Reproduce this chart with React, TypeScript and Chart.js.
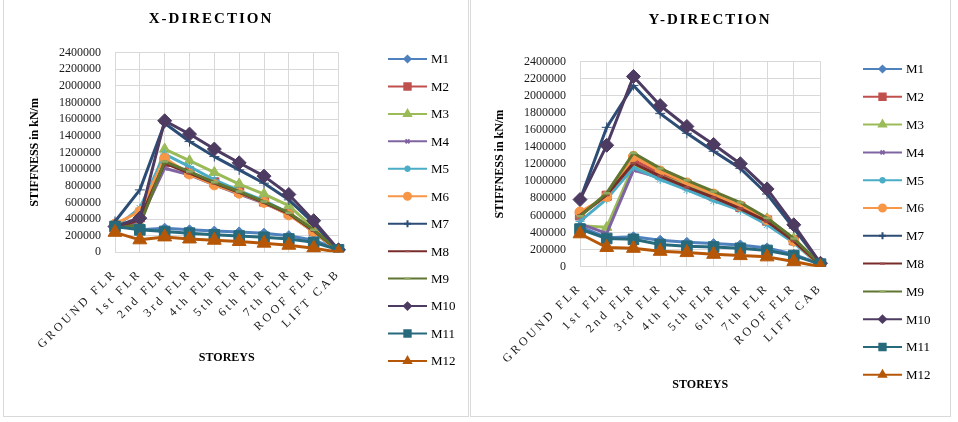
import React, { useEffect, useRef } from 'react';
import { Chart, registerables } from 'chart.js';
import { drawPoint } from 'chart.js/helpers';

Chart.register(...registerables);

// Storey labels along the x axis
const storeys = ['GROUND FLR', '1st FLR', '2nd FLR', '3rd FLR', '4th FLR', '5th FLR', '6th FLR', '7th FLR', 'ROOF FLR', 'LIFT CAB'];
const models = ['M1', 'M2', 'M3', 'M4', 'M5', 'M6', 'M7', 'M8', 'M9', 'M10', 'M11', 'M12'];

// Y axis range (kN/m)
const yMin = 0;
const yMax = 2400000;
const yStep = 200000;

// Stiffness in X direction (kN/m)
const xM1 = [330000, 270000, 290000, 270000, 255000, 245000, 230000, 200000, 145000, 35000];
const xM2 = [300000, 420000, 1080000, 960000, 840000, 730000, 610000, 470000, 260000, 20000];
const xM3 = [300000, 340000, 1240000, 1100000, 960000, 820000, 700000, 560000, 290000, 20000];
const xM4 = [280000, 380000, 1010000, 930000, 810000, 700000, 590000, 455000, 250000, 10000];
const xM5 = [300000, 530000, 1180000, 1030000, 870000, 740000, 620000, 470000, 240000, 10000];
const xM6 = [340000, 490000, 1130000, 940000, 810000, 710000, 600000, 450000, 250000, 10000];
const xM7 = [370000, 750000, 1550000, 1330000, 1150000, 990000, 830000, 630000, 350000, 20000];
const xM8 = [280000, 400000, 1070000, 950000, 830000, 720000, 600000, 465000, 260000, 20000];
const xM9 = [290000, 330000, 1090000, 970000, 840000, 730000, 610000, 475000, 270000, 20000];
const xM10 = [310000, 410000, 1580000, 1420000, 1240000, 1075000, 915000, 695000, 380000, 30000];
const xM11 = [310000, 270000, 250000, 230000, 210000, 195000, 180000, 160000, 120000, 30000];
const xM12 = [240000, 150000, 185000, 160000, 145000, 130000, 110000, 85000, 50000, 0];

// Stiffness in Y direction (kN/m)
const yM1 = [470000, 340000, 350000, 310000, 285000, 270000, 255000, 220000, 145000, 30000];
const yM2 = [600000, 830000, 1250000, 1090000, 960000, 830000, 700000, 540000, 310000, 20000];
const yM3 = [480000, 460000, 1180000, 1060000, 950000, 830000, 710000, 560000, 330000, 20000];
const yM4 = [500000, 390000, 1130000, 1040000, 920000, 800000, 680000, 530000, 300000, 10000];
const yM5 = [530000, 790000, 1160000, 1020000, 900000, 770000, 660000, 490000, 280000, 10000];
const yM6 = [640000, 820000, 1290000, 1120000, 980000, 850000, 710000, 550000, 300000, 10000];
const yM7 = [780000, 1630000, 2120000, 1790000, 1560000, 1350000, 1150000, 850000, 450000, 40000];
const yM8 = [600000, 840000, 1210000, 1060000, 930000, 810000, 680000, 530000, 300000, 20000];
const yM9 = [590000, 860000, 1330000, 1150000, 1010000, 880000, 750000, 570000, 330000, 30000];
const yM10 = [785000, 1420000, 2225000, 1885000, 1640000, 1430000, 1205000, 910000, 490000, 40000];
const yM11 = [440000, 330000, 320000, 260000, 240000, 230000, 215000, 190000, 130000, 30000];
const yM12 = [385000, 225000, 215000, 180000, 165000, 145000, 130000, 115000, 60000, 0];

const xSeries = [xM1, xM2, xM3, xM4, xM5, xM6, xM7, xM8, xM9, xM10, xM11, xM12];
const ySeries = [yM1, yM2, yM3, yM4, yM5, yM6, yM7, yM8, yM9, yM10, yM11, yM12];

const lineColors = ['#4F81BD', '#C0504D', '#9BBB59', '#8064A2', '#4BACC6', '#F79646', '#2C4D75', '#772C2A', '#5F7530', '#4D3B62', '#276A7C', '#B65708'];
const markerFill = ['#4F81BD', '#C0504D', '#9BBB59', '#8064A2', '#4BACC6', '#F79646', '#2C4D75', '#9B4A48', '#8FA862', '#4D3B62', '#276A7C', '#B65708'];
const markerStyles = ['rectRot', 'rect', 'triangle', 'crossRot', 'star', 'circle', 'cross', 'line', 'line', 'rectRot', 'rect', 'triangle'];
const plotRadius = [5, 6.5, 6, 4, 4.5, 5, 5, 3, 3.5, 7, 7.5, 8];
const legendRadius = [3.2, 4.5, 4, 2.8, 3.2, 3.5, 3.5, 2.5, 3, 3.5, 4.5, 4];

const SERIF = '"Liberation Serif", "Times New Roman", serif';

type Layout = {
  title: string;
  titleX: number;
  titleY: number;
  yAxisWidth: number;
  yTitlePad: number;
  xAxisHeight: number;
  xTitlePad: number;
  padTop: number;
  padRight: number;
  padBottom: number;
  legendLineX: number;
  legendTop: number;
  legendGap: number;
};

// Heading drawn with spaced capitals
const headingPlugin = {
  id: 'heading',
  afterDraw(chart: any, _args: any, opts: any) {
    const ctx = chart.ctx;
    ctx.save();
    ctx.font = `bold 15px ${SERIF}`;
    (ctx as any).letterSpacing = '2px';
    ctx.fillStyle = '#000';
    ctx.textAlign = 'center';
    ctx.textBaseline = 'middle';
    ctx.fillText(opts.text, opts.x + 1, opts.y);
    ctx.restore();
  },
};

// Letter-spaced storey labels
const spacedTicksPlugin = {
  id: 'spacedTicks',
  beforeDraw(chart: any) {
    const xs = chart.scales.x;
    if (xs && !xs.__spaced) {
      const orig = xs.drawLabels;
      xs.drawLabels = function (area: any) {
        const ctx = this.ctx;
        ctx.save();
        ctx.letterSpacing = '3px';
        orig.call(this, area);
        ctx.restore();
      };
      xs.__spaced = true;
    }
  },
};

// Legend: short line with the series marker in the middle
const sideLegendPlugin = {
  id: 'sideLegend',
  afterDraw(chart: any, _args: any, opts: any) {
    const ctx = chart.ctx;
    ctx.save();
    models.forEach((name, i) => {
      const y = opts.top + i * opts.gap;
      const x0 = opts.lineX;
      const x1 = x0 + 39;
      ctx.strokeStyle = lineColors[i];
      ctx.lineWidth = 2;
      ctx.beginPath();
      ctx.moveTo(x0, y);
      ctx.lineTo(x1, y);
      ctx.stroke();
      ctx.fillStyle = markerFill[i];
      ctx.strokeStyle = markerStyles[i] === 'line' ? markerFill[i] : lineColors[i];
      drawPoint(ctx, {
        pointStyle: markerStyles[i],
        radius: legendRadius[i],
        rotation: 0,
        borderWidth: markerStyles[i] === 'line' ? 2 : 1,
      } as any, (x0 + x1) / 2, y);
      ctx.fillStyle = '#000';
      ctx.font = `13px ${SERIF}`;
      ctx.textAlign = 'left';
      ctx.textBaseline = 'middle';
      ctx.fillText(name, x1 + 4, y + 1);
    });
    ctx.restore();
  },
};

function makeChart(canvas: HTMLCanvasElement, series: number[][], L: Layout) {
  const datasets = series.map((values, i) => ({
    label: models[i],
    data: values,
    borderColor: lineColors[i],
    backgroundColor: markerFill[i],
    borderWidth: 3,
    borderJoinStyle: 'round' as const,
    borderCapStyle: 'round' as const,
    pointStyle: markerStyles[i] as any,
    pointRadius: plotRadius[i],
    pointBackgroundColor: markerFill[i],
    pointBorderColor: markerStyles[i] === 'line' ? markerFill[i] : lineColors[i],
    pointBorderWidth: markerStyles[i] === 'line' ? 2.5 : 1,
    tension: 0,
    order: series.length - 1 - i,
  }));

  return new Chart(canvas, {
    type: 'line',
    data: { labels: storeys, datasets },
    plugins: [headingPlugin, spacedTicksPlugin, sideLegendPlugin],
    options: {
      responsive: false,
      animation: false,
      events: [],
      layout: {
        padding: { left: 0, top: L.padTop, right: L.padRight, bottom: L.padBottom },
      },
      plugins: {
        legend: { display: false },
        tooltip: { enabled: false },
        title: { display: false },
        heading: { text: L.title, x: L.titleX, y: L.titleY },
        sideLegend: { lineX: L.legendLineX, top: L.legendTop, gap: L.legendGap },
      } as any,
      scales: {
        x: {
          type: 'category',
          offset: false,
          grid: { color: '#d9d9d9', lineWidth: 1, drawTicks: false, offset: false },
          border: { color: '#d9d9d9', width: 1 },
          ticks: {
            autoSkip: false,
            minRotation: 45,
            maxRotation: 45,
            padding: 14,
            color: '#1a1a1a',
            font: { family: SERIF, size: 12 },
          },
          title: {
            display: true,
            text: 'STOREYS',
            color: '#000',
            font: { family: SERIF, size: 12, weight: 'bold' },
            padding: { top: 0, bottom: L.xTitlePad },
          },
          afterFit(scale: any) {
            scale.height = L.xAxisHeight;
          },
        },
        y: {
          min: yMin,
          max: yMax,
          grid: { color: '#d9d9d9', lineWidth: 1, drawTicks: false },
          border: { color: '#d9d9d9', width: 1 },
          ticks: {
            stepSize: yStep,
            autoSkip: false,
            padding: 14,
            color: '#1a1a1a',
            font: { family: SERIF, size: 12 },
            callback: (v: any) => String(v),
          },
          title: {
            display: true,
            text: 'STIFFNESS in kN/m',
            color: '#000',
            font: { family: SERIF, size: 12, weight: 'bold' },
            padding: { top: L.yTitlePad, bottom: 0 },
          },
          afterFit(scale: any) {
            scale.width = L.yAxisWidth;
          },
        },
      },
    } as any,
  });
}

function Panel(props: { left: number; width: number; height: number; series: number[][]; layout: Layout }) {
  const ref = useRef<HTMLCanvasElement | null>(null);
  useEffect(() => {
    if (!ref.current) return;
    const chart = makeChart(ref.current, props.series, props.layout);
    return () => chart.destroy();
  }, []);
  return (
    <>
      <div
        style={{
          position: 'absolute',
          left: props.left - 1,
          top: -2,
          width: props.width + 2,
          height: props.height + 3,
          border: '1px solid #d9d9d9',
          boxSizing: 'border-box',
        }}
      />
      <canvas
        ref={ref}
        width={props.width}
        height={props.height}
        style={{ position: 'absolute', left: props.left, top: 0, width: props.width, height: props.height }}
      />
    </>
  );
}

const xLayout: Layout = {
  title: 'X-DIRECTION',
  titleX: 206,
  titleY: 19,
  yAxisWidth: 111,
  yTitlePad: 24,
  xAxisHeight: 140,
  xTitlePad: 27,
  padTop: 52.5,
  padRight: 129.5,
  padBottom: 23.7,
  legendLineX: 384,
  legendTop: 59,
  legendGap: 27.45,
};

const yLayout: Layout = {
  title: 'Y-DIRECTION',
  titleX: 238,
  titleY: 20,
  yAxisWidth: 109,
  yTitlePad: 22,
  xAxisHeight: 140,
  xTitlePad: 14.5,
  padTop: 61.5,
  padRight: 129.5,
  padBottom: 9.3,
  legendLineX: 392,
  legendTop: 69,
  legendGap: 27.8,
};

export default function App() {
  return (
    <div style={{ position: 'absolute', left: 0, top: 0, width: 958, height: 422, background: '#fff', overflow: 'hidden' }}>
      <Panel left={4} width={464} height={416} series={xSeries} layout={xLayout} />
      <Panel left={471} width={479} height={416} series={ySeries} layout={yLayout} />
    </div>
  );
}
